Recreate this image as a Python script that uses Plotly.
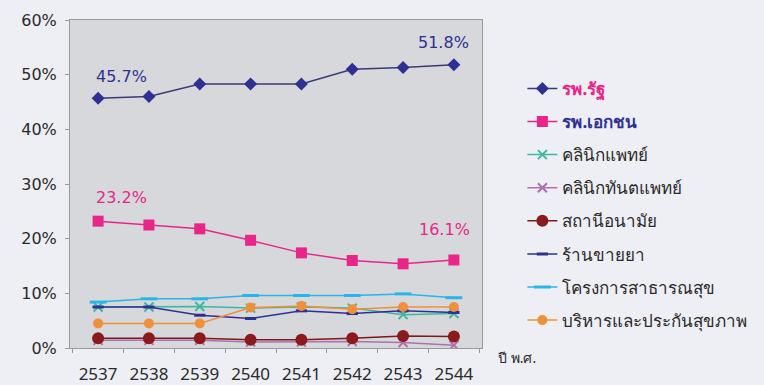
import plotly.graph_objects as go

years = ["2537", "2538", "2539", "2540", "2541", "2542", "2543", "2544"]

state_hosp = [45.7, 46.0, 48.3, 48.3, 48.3, 51.0, 51.3, 51.8]
private_hosp = [23.2, 22.5, 21.8, 19.7, 17.4, 16.0, 15.4, 16.1]
clinic = [7.5, 7.5, 7.6, 7.3, 7.5, 7.3, 6.1, 6.3]
dental = [1.4, 1.4, 1.4, 1.1, 1.1, 1.2, 1.0, 0.5]
health_station = [1.8, 1.8, 1.8, 1.5, 1.5, 1.8, 2.2, 2.1]
pharmacy = [7.5, 7.5, 6.0, 5.4, 6.8, 6.3, 6.8, 6.5]
public_health = [8.4, 9.0, 9.0, 9.6, 9.6, 9.6, 9.9, 9.2]
admin_insurance = [4.5, 4.5, 4.5, 7.4, 7.7, 7.1, 7.5, 7.5]

names = ["รพ.รัฐ", "รพ.เอกชน", "คลินิกแพทย์", "คลินิกทันตแพทย์", "สถานีอนามัย",
         "ร้านขายยา", "โครงการสาธารณสุข", "บริหารและประกันสุขภาพ"]
legend_colors = ["#e8268a", "#2e3192", "#2a2a2a", "#2a2a2a", "#2a2a2a", "#2a2a2a", "#2a2a2a", "#2a2a2a"]

series = [state_hosp, private_hosp, clinic, dental, health_station, pharmacy, public_health, admin_insurance]
line_colors = ["#3a3a7a", "#e8268a", "#3cb9a0", "#b070b0", "#7a1a1a", "#2e3192", "#29b6e6", "#f0903a"]
marker_colors = ["#2e3192", "#e8268a", "#3cb9a0", "#b070b0", "#8b1a1a", "#2e3192", "#29b6e6", "#f0903a"]
symbols = ["diamond", "square", "x-thin", "x-thin", "circle", "line-ew", "line-ew", "circle"]
msizes = [10, 11, 9, 9, 12, 8, 12, 10]

fig = go.Figure()
for i, (vals, nm) in enumerate(zip(series, names)):
    weight = "bold" if i < 2 else "normal"
    label = f"<span style='color:{legend_colors[i]};font-weight:{weight}'>{nm}</span>"
    sym = symbols[i]
    mk = dict(color=marker_colors[i], size=msizes[i], symbol=sym)
    if sym in ("x-thin", "line-ew"):
        mk["line"] = dict(color=marker_colors[i], width=3 if sym == "line-ew" else 2)
    fig.add_trace(go.Scatter(
        x=years, y=vals, name=label, mode="lines+markers",
        line=dict(color=line_colors[i], width=1.5),
        marker=mk, legendgroup=str(i),
    ))

# data labels (category axis annotations use category index)
for vals, idx, col, xs, ys in [(state_hosp, 0, "#2e3192", 23, 22), (state_hosp, 7, "#2e3192", -10, 22),
                               (private_hosp, 0, "#e8268a", 23, 24), (private_hosp, 7, "#e8268a", -9, 30)]:
    fig.add_annotation(x=idx, y=vals[idx], text=f"{vals[idx]:.1f}%",
                       showarrow=False, yshift=ys, xshift=xs,
                       font=dict(size=16, color=col, family="DejaVu Sans, Verdana, sans-serif"))

fig.add_annotation(xref="paper", yref="paper", x=1.035, y=-0.03, xanchor="left", yanchor="middle",
                   text="ปี พ.ศ.", showarrow=False, font=dict(size=14, color="#2a2a2a"))

fig.update_layout(
    width=764, height=385,
    margin=dict(l=70, r=262, t=20, b=37),
    paper_bgcolor="#eeeef5",
    plot_bgcolor="#d6d8db",
    font=dict(family="Noto Sans, Tahoma, sans-serif", color="#2a2a2a"),
    legend=dict(x=1.098, y=0.845, xanchor="left", yanchor="top",
                font=dict(size=17), tracegroupgap=8, bgcolor="rgba(0,0,0,0)"),
    showlegend=True,
)
fig.update_xaxes(type="category", tickson="boundaries", ticks="outside", ticklen=4,
                 tickcolor="#999999", showline=True, linecolor="#999999", mirror=True,
                 showgrid=False, automargin=False, tickangle=0, ticklabelstandoff=11,
                 tickfont=dict(size=17, color="#2a2a2a"))
fig.update_yaxes(range=[0, 60], dtick=10, ticksuffix="%", ticks="outside", ticklen=4,
                 tickcolor="#999999", showline=True, linecolor="#999999", mirror=True,
                 showgrid=False, zeroline=False, automargin=False, ticklabelstandoff=5,
                 tickfont=dict(size=16, color="#2a2a2a", family="DejaVu Sans, Verdana, sans-serif"))

fig.write_html("out.html")
